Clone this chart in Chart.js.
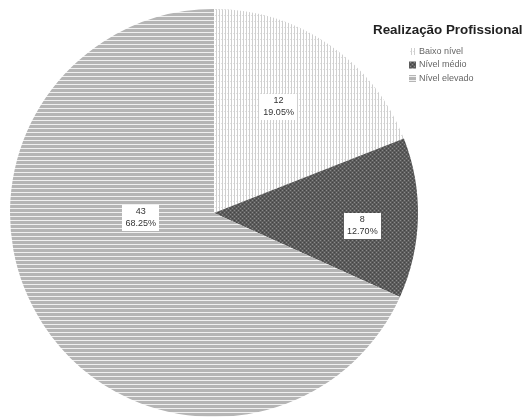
<!DOCTYPE html>
<html>
<head>
<meta charset="utf-8">
<script src="https://cdn.jsdelivr.net/npm/chart.js@4"></script>
<style>
html,body{margin:0;padding:0;background:#fff;}
#wrap{width:526px;height:417px;position:relative;}
</style>
</head>
<body>
<div id="wrap"><canvas id="c" width="526" height="417"></canvas></div>
<script>
const categories = ["Baixo nível", "Nível médio", "Nível elevado"];
const counts = [12, 8, 43];
const percentLabels = ["19.05%", "12.70%", "68.25%"];
const legendTitle = "Realização Profissional";

// label placement style: fraction of radius, angle shift (degrees)
const labelRadiusFrac = [0.61, 0.73, 0.36];
const labelAngleShift = [-3, 3.5, 29];

function makePattern(kind) {
  const p = document.createElement('canvas');
  const ctx = p.getContext('2d');
  if (kind === 0) {
    p.width = 3; p.height = 6;
    ctx.fillStyle = '#ffffff'; ctx.fillRect(0,0,3,6);
    ctx.fillStyle = '#cfcfcf'; ctx.fillRect(0,0,1,6);
    ctx.fillStyle = '#e0e0e0'; ctx.fillRect(2,3,1,1);
  } else if (kind === 1) {
    p.width = 4; p.height = 4;
    ctx.fillStyle = '#5c5c5c'; ctx.fillRect(0,0,4,4);
    ctx.fillStyle = '#8a8a8a';
    ctx.fillRect(0,0,1,1); ctx.fillRect(2,2,1,1);
    ctx.fillStyle = '#444444';
    ctx.fillRect(2,0,1,1); ctx.fillRect(0,2,1,1);
  } else {
    p.width = 4; p.height = 4;
    ctx.fillStyle = '#b5b5b5'; ctx.fillRect(0,0,4,4);
    ctx.fillStyle = '#f0f0f0'; ctx.fillRect(0,0,4,1);
  }
  return ctx.createPattern(p, 'repeat');
}

const canvas = document.getElementById('c');
const patterns = [makePattern(0), makePattern(1), makePattern(2)];

const labelPlugin = {
  id: 'sliceLabels',
  afterDatasetsDraw(chart) {
    const ctx = chart.ctx;
    const meta = chart.getDatasetMeta(0);
    ctx.save();
    ctx.font = '9px "Liberation Sans", Arial, sans-serif';
    ctx.textAlign = 'center';
    ctx.textBaseline = 'middle';
    meta.data.forEach((arc, i) => {
      const mid = (arc.startAngle + arc.endAngle) / 2 + labelAngleShift[i] * Math.PI / 180;
      const r = arc.outerRadius * labelRadiusFrac[i];
      const x = arc.x + Math.cos(mid) * r;
      const y = arc.y + Math.sin(mid) * r;
      const l1 = String(chart.data.datasets[0].data[i]);
      const l2 = percentLabels[i];
      const w = Math.max(ctx.measureText(l1).width, ctx.measureText(l2).width) + 6;
      ctx.fillStyle = '#ffffff';
      ctx.fillRect(Math.round(x - w/2), Math.round(y - 13), Math.round(w), 26);
      ctx.fillStyle = '#333333';
      ctx.fillText(l1, x, y - 6);
      ctx.fillText(l2, x, y + 6);
    });
    ctx.restore();
  }
};

const legendPlugin = {
  id: 'customLegend',
  afterDraw(chart) {
    const ctx = chart.ctx;
    ctx.save();
    ctx.font = 'bold 13.4px "Liberation Sans", Arial, sans-serif';
    ctx.fillStyle = '#222222';
    ctx.textBaseline = 'middle';
    ctx.textAlign = 'left';
    ctx.fillText(legendTitle, 373, 30);
    ctx.font = '9px "Liberation Sans", Arial, sans-serif';
    categories.forEach((c, i) => {
      const y = 51 + i * 13.5;
      ctx.fillStyle = patterns[i];
      ctx.fillRect(409, y - 3, 7, 7);
      ctx.fillStyle = '#666666';
      ctx.fillText(c, 419, y + 0.5);
    });
    ctx.restore();
  }
};

new Chart(canvas, {
  type: 'pie',
  data: {
    labels: categories,
    datasets: [{
      data: counts,
      backgroundColor: patterns,
      borderWidth: 0
    }]
  },
  options: {
    responsive: false,
    animation: false,
    layout: { padding: { left: 10, right: 108, top: 9, bottom: 0 } },
    plugins: { legend: { display: false }, tooltip: { enabled: false } }
  },
  plugins: [labelPlugin, legendPlugin]
});
</script>
</body>
</html>
